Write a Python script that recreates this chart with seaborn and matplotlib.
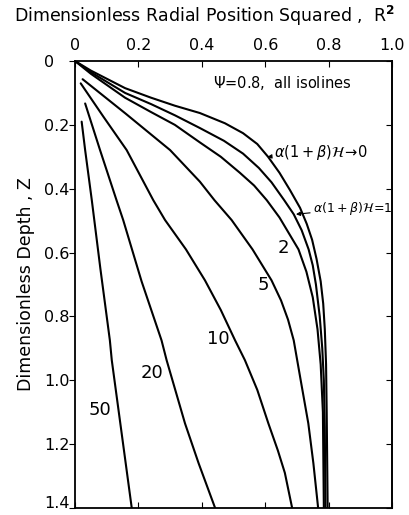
import numpy as np
import pandas as pd
import matplotlib
matplotlib.use("Agg")
import matplotlib.pyplot as plt
import matplotlib.transforms as mtransforms
import seaborn as sns

# ---- data (R^2, Z) ----
c0_r = [0.0, 0.05, 0.158, 0.24, 0.315, 0.394, 0.473, 0.53, 0.575, 0.609, 0.645, 0.678, 0.71, 0.731, 0.748, 0.762, 0.775, 0.783, 0.788, 0.792, 0.794, 0.797]
c0_z = [0.0, 0.03, 0.085, 0.115, 0.14, 0.163, 0.195, 0.226, 0.26, 0.30, 0.35, 0.404, 0.46, 0.51, 0.56, 0.62, 0.69, 0.76, 0.84, 0.95, 1.10, 1.40]

c1_r = [0.0, 0.05, 0.158, 0.24, 0.315, 0.394, 0.47, 0.53, 0.58, 0.62, 0.66, 0.69, 0.715, 0.737, 0.75, 0.76, 0.772, 0.78, 0.785, 0.788, 0.79]
c1_z = [0.0, 0.035, 0.10, 0.135, 0.17, 0.21, 0.25, 0.29, 0.335, 0.38, 0.436, 0.48, 0.53, 0.59, 0.64, 0.70, 0.80, 0.90, 1.00, 1.15, 1.40]

c2_r = [0.0, 0.05, 0.158, 0.24, 0.315, 0.394, 0.46, 0.52, 0.565, 0.605, 0.645, 0.675, 0.705, 0.73, 0.75, 0.765, 0.775, 0.782, 0.785]
c2_z = [0.0, 0.04, 0.115, 0.16, 0.20, 0.255, 0.30, 0.35, 0.39, 0.436, 0.49, 0.54, 0.59, 0.66, 0.74, 0.84, 0.95, 1.10, 1.40]

c5_r = [0.024, 0.16, 0.30, 0.394, 0.44, 0.494, 0.56, 0.62, 0.65, 0.672, 0.69, 0.712, 0.736, 0.752, 0.767]
c5_z = [0.057, 0.165, 0.279, 0.378, 0.436, 0.498, 0.59, 0.687, 0.75, 0.81, 0.875, 1.00, 1.135, 1.26, 1.40]

c10_r = [0.018, 0.09, 0.163, 0.247, 0.284, 0.35, 0.41, 0.46, 0.505, 0.536, 0.575, 0.61, 0.64, 0.662, 0.685]
c10_z = [0.07, 0.175, 0.279, 0.436, 0.498, 0.59, 0.687, 0.78, 0.875, 0.937, 1.03, 1.135, 1.22, 1.29, 1.40]

c20_r = [0.032, 0.079, 0.131, 0.152, 0.21, 0.273, 0.289, 0.347, 0.39, 0.442]
c20_z = [0.133, 0.279, 0.436, 0.498, 0.69, 0.875, 0.937, 1.135, 1.26, 1.40]

c50_r = [0.021, 0.032, 0.053, 0.08, 0.11, 0.116, 0.145, 0.179]
c50_z = [0.19, 0.279, 0.436, 0.65, 0.875, 0.937, 1.15, 1.40]

curve_names = ["0", "1", "2", "5", "10", "20", "50"]
x_ticks = [0, 0.2, 0.4, 0.6, 0.8, 1.0]
x_ticklabels = ["0", "0.2", "0.4", "0.6", "0.8", "1.0"]
y_ticks = [0, 0.2, 0.4, 0.6, 0.8, 1.0, 1.2, 1.4]
y_ticklabels = ["0", "0.2", "0.4", "0.6", "0.8", "1.0", "1.2", "1.4"]

label_text = ["50", "20", "10", "5", "2"]
label_r = [0.079, 0.242, 0.452, 0.594, 0.656]
label_z = [1.094, 0.977, 0.872, 0.702, 0.586]

frames = []
for name, r, z in zip(curve_names,
                      [c0_r, c1_r, c2_r, c5_r, c10_r, c20_r, c50_r],
                      [c0_z, c1_z, c2_z, c5_z, c10_z, c20_z, c50_z]):
    frames.append(pd.DataFrame({"R2": r, "Z": z, "curve": name}))
df = pd.concat(frames, ignore_index=True)

sns.set_style("ticks")
plt.rcParams["font.family"] = ["DejaVu Sans"]
plt.rcParams["text.color"] = "black"
plt.rcParams["axes.labelcolor"] = "black"
plt.rcParams["xtick.color"] = "black"
plt.rcParams["ytick.color"] = "black"

fig = plt.figure(figsize=(4.09, 5.15), dpi=100)
ax = fig.add_axes([75 / 409, 1 - 508 / 515, 317 / 409, 447 / 515])

sns.lineplot(data=df, x="R2", y="Z", units="curve", estimator=None, sort=False,
             color="black", linewidth=1.5, ax=ax, legend=False)

ax.set_xlim(0, 1.0)
ax.set_ylim(1.4, 0)
ax.xaxis.tick_top()
ax.xaxis.set_label_position("top")
ax.set_xticks(x_ticks)
ax.set_xticklabels(x_ticklabels, fontsize=11.5)
ax.set_yticks(y_ticks)
ax.set_yticklabels(y_ticklabels, fontsize=11.5)
ax.tick_params(axis="x", which="both", direction="in", top=True, bottom=True, length=4, pad=6)
ax.tick_params(axis="y", which="both", direction="out", left=True, right=False, length=4, pad=18.5)
for lab in ax.get_yticklabels():
    lab.set_horizontalalignment("left")
for s in ax.spines.values():
    s.set_linewidth(1.3)
    s.set_color("black")
# nudge the bottom tick label so it stays inside the canvas
lbls = ax.get_yticklabels()
lbls[-1].set_transform(lbls[-1].get_transform() + mtransforms.ScaledTranslation(0, 6 / 100, fig.dpi_scale_trans))
# inward ticks on the right side
ax2 = ax.secondary_yaxis("right")
ax2.set_yticks(y_ticks)
ax2.tick_params(direction="in", length=4, labelright=False)
ax2.spines["right"].set_linewidth(1.3)

ax.set_xlabel("")
fig.text(205 / 409, 1 - 16 / 515, r"Dimensionless Radial Position Squared ,  R$^\mathbf{2}$",
         fontsize=12.5, ha="center", va="center")
ax.set_ylabel("Dimensionless Depth , Z", fontsize=12.5)
ax.yaxis.set_label_coords(-0.126, 0.5)

for t, r, z in zip(label_text, label_r, label_z):
    ax.text(r, z, t, fontsize=13, ha="center", va="center")

ax.text(0.653, 0.069, r"$\Psi$=0.8,  all isolines", fontsize=10.5, ha="center", va="center")

ax.annotate(r"$\alpha(1+\beta)\mathcal{H}\!\rightarrow\!0$", xy=(0.607, 0.30), xytext=(0.628, 0.287),
            fontsize=10.5, ha="left", va="center",
            arrowprops=dict(arrowstyle="-|>", color="black", lw=0.8, shrinkA=0, shrinkB=0,
                            mutation_scale=6))
ax.annotate(r"$\alpha(1+\beta)\mathcal{H}\!=\!1$", xy=(0.697, 0.48), xytext=(0.752, 0.462),
            fontsize=9, ha="left", va="center",
            arrowprops=dict(arrowstyle="-|>", color="black", lw=0.8, shrinkA=0, shrinkB=0,
                            mutation_scale=6))

fig.savefig("out.png", dpi=100)
